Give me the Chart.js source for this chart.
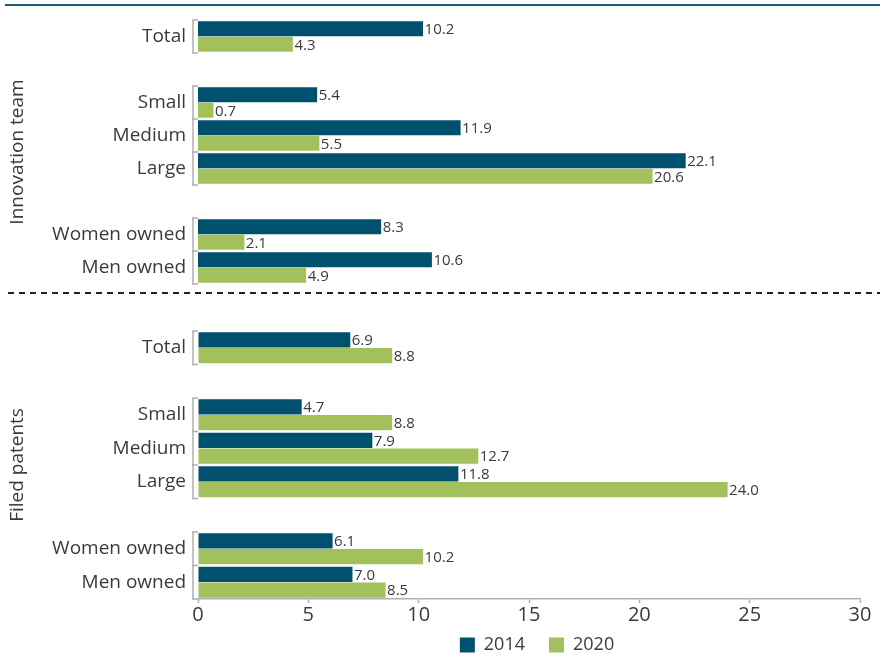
<!DOCTYPE html>
<html>
<head>
<meta charset="utf-8">
<script src="https://cdn.jsdelivr.net/npm/chart.js@4.4.1/dist/chart.umd.min.js"></script>
<style>
  html, body { margin: 0; padding: 0; background: #fff; overflow: hidden; }
  #wrap { position: relative; width: 880px; height: 663px; overflow: hidden; }
  #topRule { position: absolute; left: 5px; top: 4px; width: 875px; height: 2px; background: #1d5b7b; }
  #divider { position: absolute; left: 8px; top: 292px; width: 872px; height: 2px;
             background: repeating-linear-gradient(to right, #222 0 6px, transparent 6px 11px); }
  #innovation { position: absolute; left: 0; top: 0; }
  #patents { position: absolute; left: 0; top: 300px; }
</style>
</head>
<body>
<div id="wrap">
  <div id="topRule"></div>
  <canvas id="innovation" width="880" height="290"></canvas>
  <div id="divider"></div>
  <canvas id="patents" width="880" height="381"></canvas>
</div>
<script>
// Row labels; empty strings are spacer rows between groups
const categories = ['Total', '', 'Small', 'Medium', 'Large', '', 'Women owned', 'Men owned'];
const years = ['2014', '2020'];

// Share of firms with an innovation team (%)
const innovation2014 = [10.2, null, 5.4, 11.9, 22.1, null, 8.3, 10.6];
const innovation2020 = [4.3, null, 0.7, 5.5, 20.6, null, 2.1, 4.9];

// Share of firms that filed patents (%)
const patents2014 = [6.9, null, 4.7, 7.9, 11.8, null, 6.1, 7.0];
const patents2020 = [8.8, null, 8.8, 12.7, 24.0, null, 10.2, 8.5];

const xTicks = [0, 5, 10, 15, 20, 25, 30];

const COLOR_2014 = '#00506e';
const COLOR_2020 = '#a2c15c';
const TEXT = '#3a3a3a';
const AXIS = '#b0b0b0';
const FONT = '"Open Sans", "Noto Sans", sans-serif';

// Bracket-style y axis: a short vertical rule per group of rows with ticks at row edges
const bracketAxis = {
  id: 'bracketAxis',
  afterDraw(chart) {
    const y = chart.scales.y;
    const area = chart.chartArea;
    const ctx = chart.ctx;
    const rowH = y.getPixelForValue(1) - y.getPixelForValue(0);
    const xl = area.left - 5;
    ctx.save();
    ctx.strokeStyle = AXIS;
    ctx.lineWidth = 1.5;
    let i = 0;
    while (i < categories.length) {
      if (!categories[i]) { i++; continue; }
      let j = i;
      while (j + 1 < categories.length && categories[j + 1]) j++;
      const top = y.getPixelForValue(i) - rowH / 2;
      const bottom = y.getPixelForValue(j) + rowH / 2;
      ctx.beginPath();
      ctx.moveTo(xl, top);
      ctx.lineTo(xl, bottom);
      for (let k = i; k <= j + 1; k++) {
        const yy = top + (k - i) * rowH;
        ctx.moveTo(xl - 1, yy);
        ctx.lineTo(area.left, yy);
      }
      ctx.stroke();
      i = j + 1;
    }
    ctx.restore();
  }
};

// Value labels at the end of each bar
const valueLabels = {
  id: 'valueLabels',
  afterDatasetsDraw(chart) {
    const ctx = chart.ctx;
    ctx.save();
    ctx.font = '15px ' + FONT;
    ctx.fillStyle = TEXT;
    ctx.textAlign = 'left';
    ctx.textBaseline = 'middle';
    chart.data.datasets.forEach((ds, di) => {
      const meta = chart.getDatasetMeta(di);
      meta.data.forEach((bar, idx) => {
        const v = ds.data[idx];
        if (v === null || v === undefined) return;
        ctx.fillText(v.toFixed(1), bar.x + 1.5, bar.y + 1);
      });
    });
    ctx.restore();
  }
};

// Centre the legend under the plotting area and place it at a fixed height
const legendPlacement = {
  id: 'legendPlacement',
  afterLayout(chart) {
    const lg = chart.legend;
    if (!lg || !lg.options.display) return;
    const pad = lg.options.labels.padding;
    const h = lg.height;
    lg.left = chart.chartArea.left + 8;
    lg.right = chart.chartArea.right + 8;
    lg.width = lg.right - lg.left;
    lg.top = 345 - pad - 9;
    lg.bottom = lg.top + h;
  }
};

function makeChart(canvasId, title, data2014, data2020, showXAxis) {
  return new Chart(document.getElementById(canvasId), {
    type: 'bar',
    data: {
      labels: categories,
      datasets: [
        { label: years[0], data: data2014, backgroundColor: COLOR_2014 },
        { label: years[1], data: data2020, backgroundColor: COLOR_2020 }
      ]
    },
    options: {
      indexAxis: 'y',
      responsive: false,
      animation: false,
      devicePixelRatio: 1,
      categoryPercentage: 0.94,
      barPercentage: 0.96,
      layout: { padding: showXAxis ? { top: 31, right: 20, bottom: 0, left: 0 }
                                   : { top: 20, right: 20, bottom: 6, left: 0 } },
      plugins: {
        legend: {
          display: showXAxis,
          position: 'bottom',
          labels: {
            boxWidth: 15, boxHeight: 15, padding: 24,
            color: TEXT, font: { family: FONT, size: 18 }
          }
        },
        tooltip: { enabled: false }
      },
      scales: {
        x: {
          display: showXAxis,
          min: 0, max: 30,
          afterBuildTicks(scale) { scale.ticks = xTicks.map(v => ({ value: v })); },
          afterFit(scale) { if (showXAxis) scale.height = 30; },
          grid: { display: true, drawOnChartArea: false, drawTicks: true, tickLength: 4, tickColor: AXIS, tickWidth: 1.5 },
          border: { display: true, color: AXIS, width: 1.5 },
          ticks: { color: TEXT, padding: 0, font: { family: FONT, size: 20 } }
        },
        y: {
          afterFit(scale) {
            scale.width = 198;
            scale.paddingTop = 0;
            scale.paddingBottom = 0;
          },
          grid: { display: false, drawTicks: false },
          border: { display: false },
          ticks: { color: TEXT, padding: 12, autoSkip: false, font: { family: FONT, size: 19 } },
          title: { display: true, text: title, color: TEXT, font: { family: FONT, size: 19 },
                   padding: { top: 6, bottom: 0 } }
        }
      }
    },
    plugins: [bracketAxis, valueLabels, legendPlacement]
  });
}

makeChart('innovation', 'Innovation team', innovation2014, innovation2020, false);
makeChart('patents', 'Filed patents', patents2014, patents2020, true);
</script>
</body>
</html>
